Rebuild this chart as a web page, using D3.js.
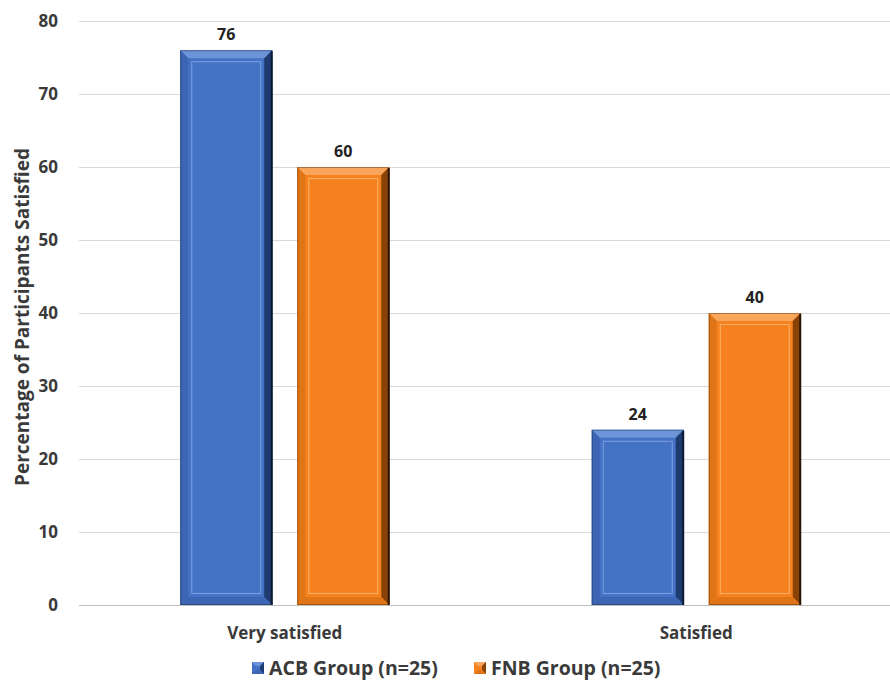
<!DOCTYPE html>
<html><head><meta charset="utf-8">
<script src="https://cdn.jsdelivr.net/npm/d3@7"></script>
<style>body{margin:0;background:#fff}svg{display:block}</style>
</head><body><svg id="c" width="890" height="681"></svg>
<script>
const categories = ["Very satisfied", "Satisfied"];
const seriesNames = ["ACB Group (n=25)", "FNB Group (n=25)"];
const acbValues = [76, 24];
const fnbValues = [60, 40];
const yTicks = [0, 10, 20, 30, 40, 50, 60, 70, 80];

(function(){
const colors = {
  ACB: {face:"#4472C4", light:"#6d93d8", mid:"#3c66b3", dark:"#1f3a6e", edge:"#0c1a33", inner:"#7da0e0"},
  FNB: {face:"#F5821F", light:"#f9a65c", mid:"#e07518", dark:"#8a4207", edge:"#2a1402", inner:"#fbb06a"}
};
const keys = ["ACB","FNB"];
const data = categories.map((c,i)=>({cat:c, vals:[acbValues[i], fnbValues[i]]}));

const svg = d3.select("#c");
const font = "'Open Sans', 'Noto Sans', sans-serif";
const txt = "#3a3a3a";
const mLeft = 79, mRight = 902, mTop = 21, mBottom = 605;

const x0 = d3.scaleBand().domain(categories).range([mLeft, mRight]).paddingInner(0).paddingOuter(0);
const x1 = d3.scaleBand().domain(keys).range([0, 209]).paddingInner(0.214);
const y = d3.scaleLinear().domain([0, 80]).range([mBottom, mTop]);

svg.append("g").selectAll("line").data(yTicks).join("line")
  .attr("x1", mLeft).attr("x2", 890)
  .attr("y1", d=>y(d)+0.5).attr("y2", d=>y(d)+0.5)
  .attr("stroke", d=> d===0 ? "#bfbfbf" : "#d9d9d9").attr("stroke-width", 1);

svg.append("g").selectAll("text").data(yTicks).join("text")
  .attr("x", 58).attr("y", d=>y(d)).attr("dy", "0.35em")
  .attr("text-anchor", "end").attr("font-family", font).attr("font-weight", 700)
  .attr("font-size", 17).attr("fill", txt).text(d=>d);

svg.append("text")
  .attr("transform", `translate(29,${317}) rotate(-90)`)
  .attr("text-anchor", "middle").attr("font-family", font).attr("font-weight", 700)
  .attr("font-size", 19).attr("fill", txt).text("Percentage of Participants Satisfied");

svg.append("g").selectAll("text").data(categories).join("text")
  .attr("x", d=>x0(d)+x0.bandwidth()/2).attr("y", 639)
  .attr("text-anchor", "middle").attr("font-family", font).attr("font-weight", 700)
  .attr("font-size", 17).attr("fill", txt).text(d=>d);

function bevelBar(g, x, yTop, w, h, c) {
  const b = Math.min(8, h/2);
  g.append("rect").attr("x", x).attr("y", yTop).attr("width", w).attr("height", h).attr("fill", c.face);
  g.append("polygon").attr("points", `${x},${yTop} ${x+w},${yTop} ${x+w-b},${yTop+b} ${x+b},${yTop+b}`).attr("fill", c.light);
  g.append("polygon").attr("points", `${x},${yTop} ${x+b},${yTop+b} ${x+b},${yTop+h-b} ${x},${yTop+h}`).attr("fill", c.mid);
  g.append("polygon").attr("points", `${x+w},${yTop} ${x+w},${yTop+h} ${x+w-b},${yTop+h-b} ${x+w-b},${yTop+b}`).attr("fill", c.dark);
  g.append("polygon").attr("points", `${x},${yTop+h} ${x+w},${yTop+h} ${x+w-b},${yTop+h-b} ${x+b},${yTop+h-b}`).attr("fill", c.mid);
  g.append("rect").attr("x", x+b+3.5).attr("y", yTop+b+3.5).attr("width", Math.max(0,w-2*b-7)).attr("height", Math.max(0,h-2*b-7))
    .attr("fill", "none").attr("stroke", c.inner).attr("stroke-width", 1);
  g.append("rect").attr("x", x+0.5).attr("y", yTop+0.5).attr("width", w-1).attr("height", h-1)
    .attr("fill", "none").attr("stroke", c.edge).attr("stroke-opacity", 0.35).attr("stroke-width", 1);
  g.append("line").attr("x1", x+w-0.5).attr("x2", x+w-0.5).attr("y1", yTop+1).attr("y2", yTop+h)
    .attr("stroke", c.edge).attr("stroke-width", 2);
}

const groups = svg.append("g").selectAll("g").data(data).join("g")
  .attr("transform", d=>`translate(${x0(d.cat)+(x0.bandwidth()-209)/2},0)`);
groups.each(function(d){
  const g = d3.select(this);
  d.vals.forEach((v,i)=>{
    const k = keys[i];
    bevelBar(g, x1(k), y(v), x1.bandwidth(), y(0)-y(v), colors[k]);
    g.append("text").attr("x", x1(k)+x1.bandwidth()/2).attr("y", y(v)-10)
      .attr("text-anchor", "middle").attr("font-family", font).attr("font-weight", 700)
      .attr("font-size", 16).attr("fill", "#222").text(v);
  });
});

const legend = svg.append("g");
const legX = [252, 474];
keys.forEach((k,i)=>{
  const c = colors[k];
  const lg = legend.append("g").attr("transform", `translate(${legX[i]},662)`);
  lg.append("rect").attr("width", 12).attr("height", 12).attr("fill", c.face);
  lg.append("polygon").attr("points", "0,0 12,0 8,4 4,4").attr("fill", c.light);
  lg.append("polygon").attr("points", "12,0 12,12 8,8 8,4").attr("fill", c.dark);
  lg.append("polygon").attr("points", "0,12 12,12 8,8 4,8").attr("fill", c.mid);
  lg.append("text").attr("x", 17).attr("y", 6).attr("dy", "0.36em")
    .attr("font-family", font).attr("font-weight", 700).attr("font-size", 19.5).attr("fill", txt)
    .text(seriesNames[i]);
});
})();
</script></body></html>
